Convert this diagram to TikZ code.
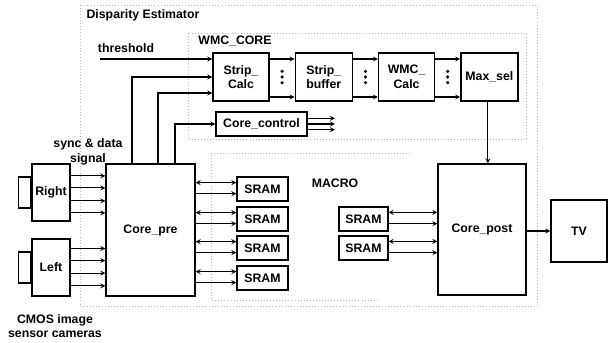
\documentclass[tikz,border=0pt]{standalone}
\usepackage{fontspec}
\setmainfont{Liberation Sans}
\usepackage{tikz}
\usetikzlibrary{shapes.geometric, arrows, positioning, calc}

\begin{document}
\begin{tikzpicture}[
    x=0.03cm, y=-0.03cm,
    font=\fontsize{10.5}{12.5}\selectfont\bfseries,
    block/.style={rectangle, draw=black, line width=1.1pt, inner sep=1pt, text centered, align=center},
    sram/.style={block, minimum width=1.53cm, minimum height=0.72cm},
    arrow/.style={line width=0.9pt, ->, >=stealth},
    biarrow/.style={line width=0.9pt, <->, >=stealth},
    region/.style={draw=gray!55, dotted, line width=0.6pt}
]
    \useasboundingbox (0,0) rectangle (608,343);

    % dotted regions
    \draw[region] (80,5) rectangle (537,306);
    \draw[region] (188,33) rectangle (526,139);
    \draw[region] (410,153) -- (211,153) -- (211,300) -- (378,300);

    % labels
    \node (title) at (143,15) {Disparity Estimator};
    \node (wmclabel) at (235,41) {WMC\_CORE};
    \node (thr) at (126,48) {threshold};
    \node[align=center] (sync) at (88,152) {sync \& data\\signal};
    \node (macro) at (335,183) {MACRO};
    \node[align=center] (cmos) at (55,326) {CMOS image\\sensor cameras};

    % WMC_CORE chain
    \node[block, minimum width=1.68cm, minimum height=1.44cm] (calc) at (241,77) {Strip\_\\Calc};
    \node[block, minimum width=1.71cm, minimum height=1.44cm, right=0.75cm of calc] (buffer) {Strip\_\\buffer};
    \node[block, minimum width=1.68cm, minimum height=1.44cm, right=0.75cm of buffer] (wmccalc) {WMC\_\\Calc};
    \node[block, minimum width=1.71cm, minimum height=1.44cm, right=0.75cm of wmccalc] (maxsel) {Max\_sel};
    \node[block, minimum width=2.73cm, minimum height=0.72cm] (corectl) at (261.5,124) {Core\_control};
    \coordinate (ctlout) at (335,124);

    \foreach \a/\b in {calc/buffer, buffer/wmccalc, wmccalc/maxsel} {
        \draw[arrow] ([yshift=0.54cm]\a.east) -- ([yshift=0.54cm]\b.west);
        \draw[arrow] ([yshift=-0.6cm]\a.east) -- ([yshift=-0.6cm]\b.west);
        \coordinate (dots\a) at ($(\a.east)!0.5!(\b.west)$);
        \foreach \d in {-0.17,0,0.17}
            \fill ([yshift=\d cm]dots\a) circle (1.5pt);
    }
    \foreach \s in {0.17,0,-0.17}
        \draw[arrow] ([yshift=\s cm]corectl.east) -- ([yshift=\s cm]ctlout);

    % cameras and Core_pre
    \node[block, minimum width=2.67cm, minimum height=3.96cm] (corepre) at (150.5,230) {Core\_pre};
    \node[block, minimum width=1.14cm, minimum height=1.71cm] (right) at (51,192.5) {Right};
    \node[block, minimum width=0.36cm, minimum height=0.93cm, left=0pt of right] (rlens) {};
    \node[block, minimum width=1.14cm, minimum height=1.71cm] (left) at (51,267.5) {Left};
    \node[block, minimum width=0.36cm, minimum height=0.93cm, left=0pt of left] (llens) {};

    \foreach \s in {0.5,0.14,-0.25,-0.61} {
        \path ([yshift=\s cm]right.east) coordinate (tmp);
        \draw[arrow] (tmp) -- (tmp -| corepre.west);
    }
    \foreach \s in {0.57,0.21,-0.17,-0.55} {
        \path ([yshift=\s cm]left.east) coordinate (tmp);
        \draw[arrow] (tmp) -- (tmp -| corepre.west);
    }

    % inputs of Strip_Calc
    \coordinate (thin) at (100,59);
    \draw[arrow] (thin) -- (thin -| calc.west);
    \draw[arrow] ([xshift=-0.555cm]corepre.north) |- (calc.west);
    \draw[arrow] ([xshift=0.225cm]corepre.north) |- ([yshift=-0.48cm]calc.west);
    \draw[arrow] ([xshift=0.735cm]corepre.north) |- (corectl.west);

    % SRAMs of Core_pre
    \foreach \i/\y in {1/189, 2/219, 3/248, 4/278} {
        \node[sram] (sram\i) at (262.5,\y) {SRAM};
        \path ([yshift=0.19cm]sram\i.west) coordinate (tmp);
        \draw[biarrow] (tmp -| corepre.east) -- (tmp);
        \path ([yshift=-0.14cm]sram\i.west) coordinate (tmp);
        \draw[arrow] (tmp -| corepre.east) -- (tmp);
    }

    % Core_post
    \node[block, minimum width=2.64cm, minimum height=3.93cm] (corepost) at (482,229.5) {Core\_post};
    \node[block, minimum width=1.68cm, minimum height=1.86cm] (tv) at (579,231) {TV};
    \foreach \i/\y in {5/219, 6/248} {
        \node[sram, minimum width=1.47cm] (sram\i) at (363.5,\y) {SRAM};
        \path ([yshift=0.2cm]sram\i.east) coordinate (tmp);
        \draw[biarrow] (tmp) -- (tmp -| corepost.west);
        \path ([yshift=-0.14cm]sram\i.east) coordinate (tmp);
        \draw[arrow] (tmp) -- (tmp -| corepost.west);
    }
    \draw[arrow] ([xshift=-0.045cm]maxsel.south) -- ([xshift=-0.045cm]maxsel.south |- corepost.north);
    \draw[arrow] (corepost.east |- tv.west) -- (tv.west);

\end{tikzpicture}
\end{document}
